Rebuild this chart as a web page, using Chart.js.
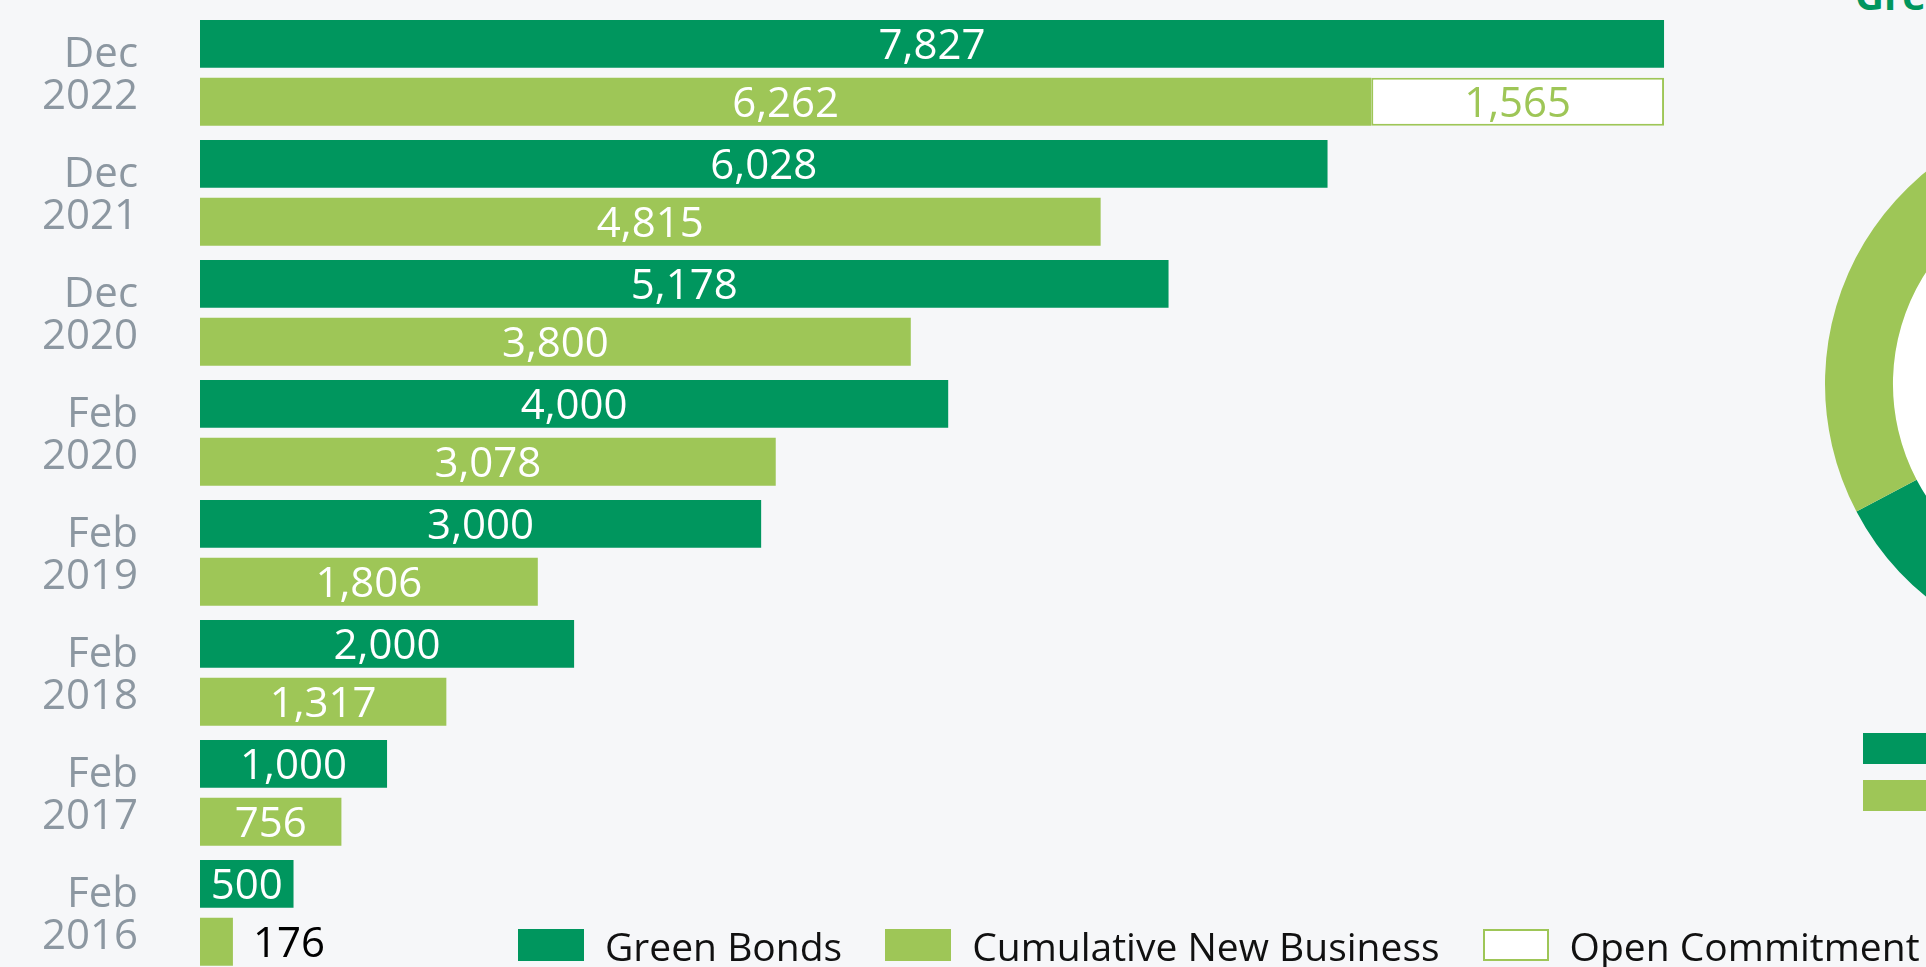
<!DOCTYPE html>
<html>
<head>
<meta charset="utf-8">
<script src="https://cdn.jsdelivr.net/npm/chart.js@4.4.1/dist/chart.umd.min.js"></script>
<style>
  html, body { margin: 0; padding: 0; background: #f6f7f9; overflow: hidden; width: 1926px; height: 967px; font-family: 'Open Sans', sans-serif; }
  #barBox { position: absolute; left: 0; top: 0; width: 1926px; height: 980px; }
  #donutBox { position: absolute; left: 1799px; top: 84px; width: 600px; height: 600px; }
  #donutTitle { position: absolute; left: 1855px; top: -25.5px; font-size: 40px; line-height: 40px; font-weight: 700; color: #00965e; white-space: nowrap; }
  #legend { position: absolute; left: 518px; top: 926px; display: flex; align-items: flex-start; gap: 43px; }
  .item { display: flex; align-items: flex-start; gap: 21px; font-size: 39px; line-height: 39px; color: #111; white-space: nowrap; }
  .sw { width: 66px; height: 32px; margin-top: 3px; box-sizing: border-box; }
  .dsw { position: absolute; left: 1863px; width: 66px; height: 31px; }
</style>
</head>
<body>
<div id="donutTitle">Green Bond Portfolio</div>
<div id="donutBox"><canvas id="donut"></canvas></div>
<div id="barBox"><canvas id="bars"></canvas></div>
<div id="legend"></div>
<div class="dsw" style="top:733px;background:#00965e"></div>
<div class="dsw" style="top:780px;background:#9ec657"></div>
<script>
// Reporting dates, top to bottom
const periods = [['Dec', '2022'], ['Dec', '2021'], ['Dec', '2020'], ['Feb', '2020'],
                 ['Feb', '2019'], ['Feb', '2018'], ['Feb', '2017'], ['Feb', '2016']];
// Volumes in EUR m
const greenBonds     = [7827, 6028, 5178, 4000, 3000, 2000, 1000, 500];
const newBusiness    = [6262, 4815, 3800, 3078, 1806, 1317, 756, 176];
const openCommitment = [1565, null, null, null, null, null, null, null];
const seriesNames = ['Green Bonds', 'Cumulative New Business', 'Open Commitment'];
// Portfolio split shown in the ring
const donutShares = [67.3, 32.7];

const DARK = '#00965e';
const LIGHT = '#9ec657';
const GRAY = '#8c97a1';

// Writes the value of each bar inside it, or just past its end when it does not fit
const valueLabels = {
  id: 'valueLabels',
  afterDatasetsDraw(chart) {
    const ctx = chart.ctx;
    ctx.save();
    ctx.font = "42px 'Open Sans'";
    ctx.textBaseline = 'alphabetic';
    chart.data.datasets.forEach((ds, di) => {
      const meta = chart.getDatasetMeta(di);
      meta.data.forEach((bar, i) => {
        const v = ds.data[i];
        if (v == null) return;
        const txt = v.toLocaleString('en-US');
        const tw = ctx.measureText(txt).width;
        const left = Math.min(bar.x, bar.base), right = Math.max(bar.x, bar.base);
        const yb = bar.y + 15;
        if (right - left > tw + 12) {
          ctx.textAlign = 'center';
          ctx.fillStyle = ds.labelColor;
          ctx.fillText(txt, (left + right) / 2, yb);
        } else {
          ctx.textAlign = 'left';
          ctx.fillStyle = '#000';
          ctx.fillText(txt, right + 20, yb);
        }
      });
    });
    ctx.restore();
  }
};

const barChart = new Chart(document.getElementById('bars'), {
  type: 'bar',
  data: {
    labels: periods,
    datasets: [
      { label: seriesNames[0], data: greenBonds, stack: 'bonds', backgroundColor: DARK, borderWidth: 0, labelColor: '#ffffff' },
      { label: seriesNames[1], data: newBusiness, stack: 'business', backgroundColor: LIGHT, borderWidth: 0, labelColor: '#ffffff' },
      { label: seriesNames[2], data: openCommitment, stack: 'business', backgroundColor: '#ffffff', borderColor: LIGHT, borderWidth: 2, borderSkipped: false, labelColor: LIGHT }
    ]
  },
  options: {
    indexAxis: 'y',
    responsive: true,
    maintainAspectRatio: false,
    animation: false,
    datasets: { bar: { categoryPercentage: 0.964, barPercentage: 0.827 } },
    layout: { padding: { top: 12.85, bottom: 7.15, left: 0, right: 229.6 } },
    plugins: { legend: { display: false }, tooltip: { enabled: false } },
    scales: {
      x: { display: false, stacked: true, min: 0, max: 8000 },
      y: {
        stacked: true,
        grid: { display: false, drawTicks: false },
        border: { display: false },
        ticks: { font: { family: "'Open Sans'", size: 42, lineHeight: 1.0 }, color: GRAY, padding: 62, labelOffset: 3.5 },
        afterFit(scale) {
          scale.width = 200;
          scale.paddingTop = 0;
          scale.paddingBottom = 0;
        }
      }
    }
  },
  plugins: [valueLabels]
});

// Legend under the bars
const legend = document.getElementById('legend');
barChart.data.datasets.forEach((ds) => {
  const item = document.createElement('div');
  item.className = 'item';
  const sw = document.createElement('div');
  sw.className = 'sw';
  sw.style.background = ds.backgroundColor;
  if (ds.borderWidth) sw.style.border = ds.borderWidth + 'px solid ' + ds.borderColor;
  const tx = document.createElement('span');
  tx.textContent = ds.label;
  item.appendChild(sw);
  item.appendChild(tx);
  legend.appendChild(item);
});

// White hole in the middle of the ring
const ringHole = {
  id: 'ringHole',
  beforeDatasetsDraw(chart) {
    const arc = chart.getDatasetMeta(0).data[0];
    if (!arc) return;
    const ctx = chart.ctx;
    ctx.save();
    ctx.fillStyle = '#ffffff';
    ctx.beginPath();
    ctx.arc(arc.x, arc.y, arc.innerRadius, 0, Math.PI * 2);
    ctx.fill();
    ctx.restore();
  }
};

new Chart(document.getElementById('donut'), {
  type: 'doughnut',
  data: {
    datasets: [{ data: donutShares, backgroundColor: [DARK, LIGHT], borderWidth: 0, radius: 274, cutout: '75.2%' }]
  },
  options: {
    responsive: true,
    maintainAspectRatio: false,
    animation: false,
    plugins: { legend: { display: false }, tooltip: { enabled: false } }
  },
  plugins: [ringHole]
});
</script>
</body>
</html>
